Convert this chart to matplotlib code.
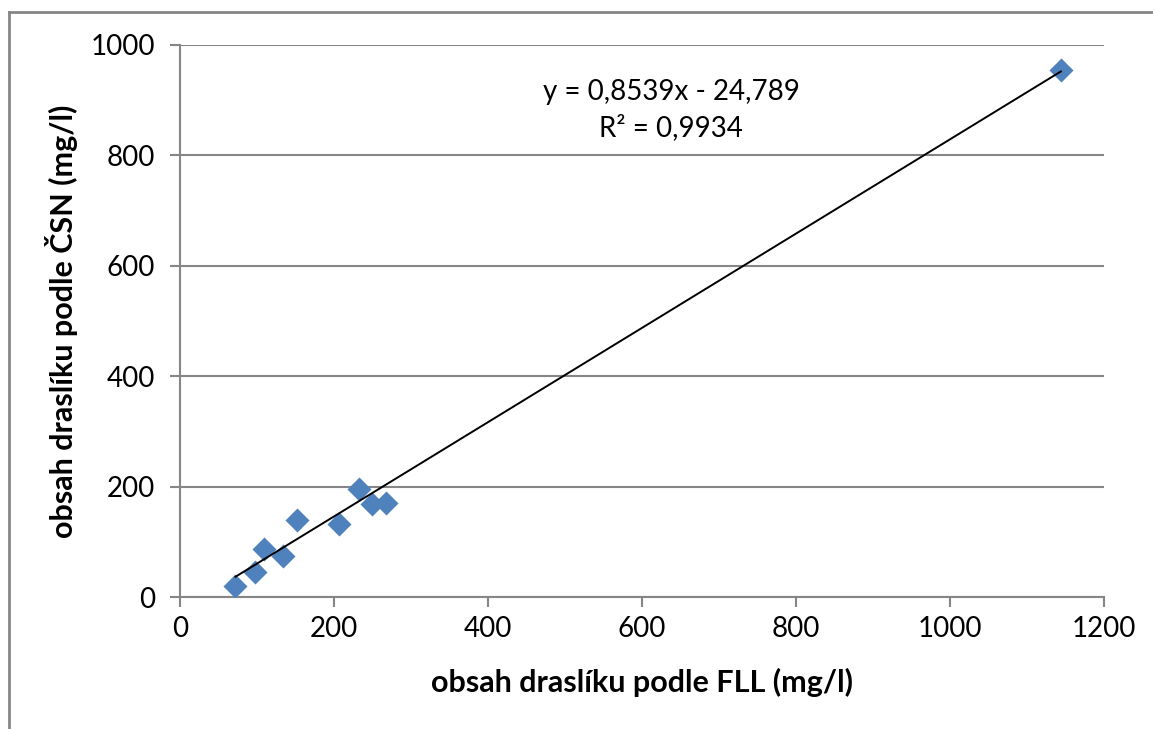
import matplotlib.pyplot as plt
import numpy as np
from matplotlib.lines import Line2D

plt.rcParams['font.family'] = ['Lato', 'DejaVu Sans']

# data
fll = [72, 97, 109, 134, 152, 206, 232, 250, 267, 1144]
csn = [20, 45, 87, 74, 140, 132, 195, 169, 170, 954]
slope = 0.8539
intercept = -24.789
r2 = 0.9934

x_ticks = [0, 200, 400, 600, 800, 1000, 1200]
y_ticks = [0, 200, 400, 600, 800, 1000]

fig = plt.figure(figsize=(11.53, 7.29), dpi=100)
ax = fig.add_axes([0.1561, 0.181, 0.8014, 0.7573])

grey = '#868686'
ax.grid(axis='y', color=grey, linewidth=1.5)
ax.set_axisbelow(True)

ax.scatter(fll, csn, marker='D', s=150, color='#4F81BD', zorder=3, linewidths=0)

# linear trend line
xs = np.array([min(fll), max(fll)])
ax.plot(xs, slope * xs + intercept, color='black', linewidth=1.4, zorder=4)

ax.text(638, 915, 'y = 0,8539x - 24,789', ha='center', va='center', fontsize=20)
ax.text(638, 850, 'R² = 0,9934', ha='center', va='center', fontsize=20)

ax.set_xlim(0, 1200)
ax.set_ylim(0, 1000)
ax.set_xticks(x_ticks)
ax.set_yticks(y_ticks)
ax.tick_params(labelsize=20, length=7, width=1.5, color=grey)
ax.tick_params(axis='x', pad=7)
ax.tick_params(axis='y', pad=11)

for side in ['top', 'right']:
    ax.spines[side].set_visible(False)
for side in ['left', 'bottom']:
    ax.spines[side].set_color(grey)
    ax.spines[side].set_linewidth(1.5)

ax.set_xlabel('obsah draslíku podle FLL (mg/l)', fontsize=22, fontweight='bold', labelpad=18)
ax.set_ylabel('obsah draslíku podle ČSN (mg/l)', fontsize=22, fontweight='bold', labelpad=9)

# outer chart frame (left and top only visible)
fig.add_artist(Line2D([0.0078, 0.0078], [0.0, 0.9835], transform=fig.transFigure, color=grey, linewidth=2))
fig.add_artist(Line2D([0.0078, 1.0], [0.9835, 0.9835], transform=fig.transFigure, color=grey, linewidth=2))

fig.savefig('out.png', dpi=100)
